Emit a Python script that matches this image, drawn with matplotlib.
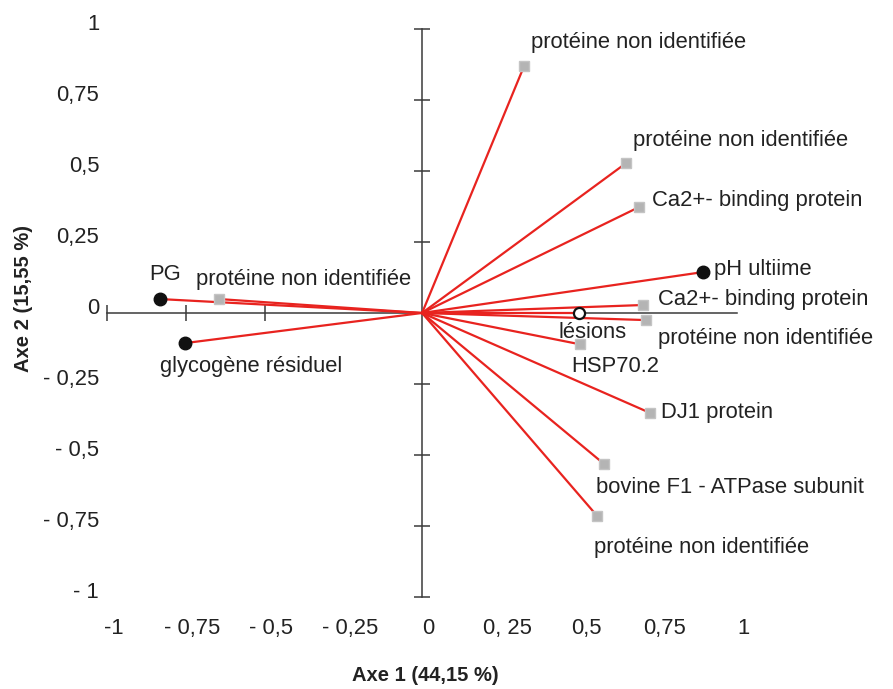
import numpy as np
import matplotlib.pyplot as plt

plt.rcParams['font.family'] = ['Liberation Sans', 'DejaVu Sans']

# variables (loadings on axes 1 and 2)
labels = ['protéine non identifiée', 'protéine non identifiée', 'Ca2+- binding protein',
          'pH ultiime', 'Ca2+- binding protein', 'protéine non identifiée', 'lésions',
          'HSP70.2', 'DJ1 protein', 'bovine F1 - ATPase subunit', 'protéine non identifiée',
          'PG', 'protéine non identifiée', 'glycogène résiduel']
axe1 = [0.324, 0.648, 0.689, 0.892, 0.70, 0.71, 0.498, 0.50, 0.724, 0.578, 0.556,
        -0.832, -0.644, -0.752]
axe2 = [0.870, 0.528, 0.373, 0.144, 0.028, -0.025, 0.0, -0.11, -0.352, -0.532, -0.715,
        0.049, 0.049, -0.106]
kind = ['prot', 'prot', 'prot', 'var', 'prot', 'prot', 'sup', 'prot', 'prot', 'prot',
        'prot', 'var', 'prot', 'var']

xticks = [-1, -0.75, -0.5, -0.25, 0, 0.25, 0.5, 0.75, 1]
xticklabels = ['-1', '- 0,75', '- 0,5', '- 0,25', '0', '0, 25', '0,5', '0,75', '1']
yticks = [1, 0.75, 0.5, 0.25, 0, -0.25, -0.5, -0.75, -1]
yticklabels = ['1', '0,75', '0,5', '0,25', '0', '- 0,25', '- 0,5', '- 0,75', '- 1']

# label offsets in points (dx, dy, ha)
offsets = [(5, 17, 'left'), (5, 16, 'left'), (9, 5, 'left'), (8, 2, 'left'),
           (11, 4, 'left'), (9, -13, 'left'), (-15, -14, 'left'), (-6, -16, 'left'),
           (8, 0, 'left'), (-6, -17, 'left'), (-2, -23, 'left'), (4, 18, 'center'),
           (-17, 14, 'left'), (-18, -17, 'left')]

fig = plt.figure(figsize=(8.93, 6.89), dpi=100)
ax = fig.add_axes([0, 0, 1, 1])
ax.set_xlim(-1.340, 1.495)
ax.set_ylim(-1.324, 1.102)
ax.axis('off')

axcol = '#3a3a3a'
fs = 15.8

# axes lines through the origin
ax.plot([-1, 1], [0, 0], color=axcol, lw=1.1, zorder=1)
ax.plot([0, 0], [-1, 1], color=axcol, lw=1.1, zorder=1)
ax.plot([0] * len(yticks), yticks, ls='none', marker='_', ms=11, mew=1.1, color=axcol, zorder=1)
ax.plot([-1, -0.75, -0.5], [0, 0, 0], ls='none', marker='|', ms=12, mew=1.1, color=axcol, zorder=1)

for v, t in zip(yticks, yticklabels):
    ax.text(-1.025, v + 0.015, t, ha='right', va='center', fontsize=fs, color='#222222')
for v, t in zip(xticks, xticklabels):
    ax.text(v + 0.02, -1.11, t, ha='center', va='center', fontsize=fs, color='#222222')

ax.text(0.01, -1.278, 'Axe 1 (44,15 %)', ha='center', va='center', fontsize=14.5,
        fontweight='bold', color='#222222')
ax.text(-1.265, 0.05, 'Axe 2 (15,55 %)', ha='center', va='center', fontsize=14.5,
        fontweight='bold', color='#222222', rotation=90)

# vectors
for x, y in zip(axe1, axe2):
    ax.plot([0, x], [0, y], color='#e8231f', lw=1.6, zorder=2)

for x, y, k in zip(axe1, axe2, kind):
    if k == 'var':
        ax.plot(x, y, 'o', ms=9, color='#111111', zorder=3)
    elif k == 'sup':
        ax.plot(x, y, 'o', ms=8, mfc='white', mec='#111111', mew=1.6, zorder=3)
    else:
        ax.plot(x, y, 's', ms=7.5, color='#b4b4b4', mec='#c4c4c4', zorder=3)

for lab, x, y, (dx, dy, ha) in zip(labels, axe1, axe2, offsets):
    ax.annotate(lab, (x, y), xytext=(dx, dy), textcoords='offset points',
                ha=ha, va='center', fontsize=fs, color='#222222', zorder=4)

fig.savefig('out.png', dpi=100, facecolor='white')
